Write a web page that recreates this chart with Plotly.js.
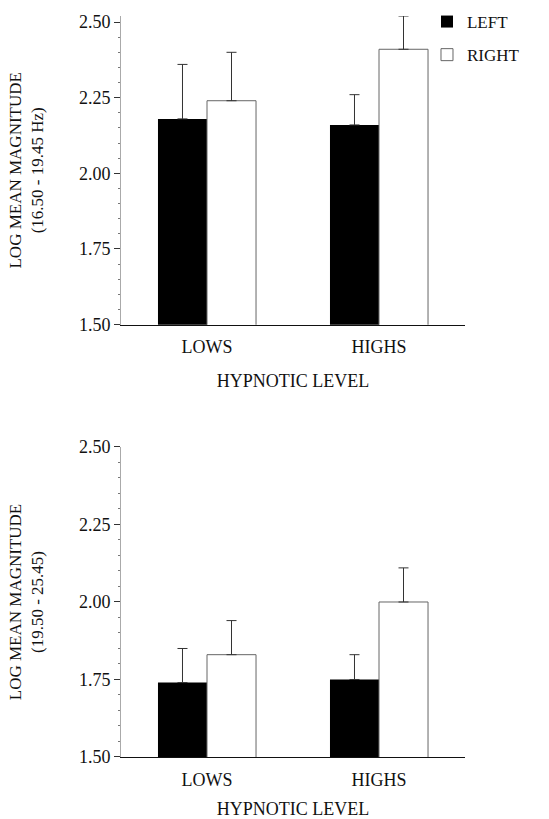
<!DOCTYPE html>
<html>
<head>
<meta charset="utf-8">
<script src="https://cdn.plot.ly/plotly-3.0.1.min.js"></script>
<style>
html,body{margin:0;padding:0;background:#fff;}
#chart{width:549px;height:819px;}
</style>
</head>
<body>
<div id="chart"></div>
<script>
// Categories
const categories = ['LOWS', 'HIGHS'];

// Top panel: 16.50 - 19.45 Hz
const topLeft = [2.18, 2.16];
const topLeftErr = [0.18, 0.10];
const topRight = [2.24, 2.41];
const topRightErr = [0.16, 0.11];

// Bottom panel: 19.50 - 25.45
const botLeft = [1.74, 1.75];
const botLeftErr = [0.11, 0.08];
const botRight = [1.83, 2.00];
const botRightErr = [0.11, 0.11];

const seriesNames = ['LEFT', 'RIGHT'];
const yTicks = [1.50, 1.75, 2.00, 2.25, 2.50];

const FONT = '"Liberation Serif", "Times New Roman", Times, serif';

function errSpec(plus) {
  return {type: 'data', symmetric: false, array: plus, arrayminus: plus.map(() => 0),
          color: '#333', thickness: 1, width: 5};
}
const leftMarker = {color: '#000', line: {color: '#000', width: 0}};
const rightMarker = {color: '#fff', line: {color: '#666', width: 1}};

const traces = [
  {type: 'bar', name: seriesNames[0], x: categories, y: topLeft, xaxis: 'x', yaxis: 'y',
   marker: leftMarker, error_y: errSpec(topLeftErr), legendgroup: 'L'},
  {type: 'bar', name: seriesNames[1], x: categories, y: topRight, xaxis: 'x', yaxis: 'y',
   marker: rightMarker, error_y: errSpec(topRightErr), legendgroup: 'R'},
  {type: 'bar', name: seriesNames[0], x: categories, y: botLeft, xaxis: 'x2', yaxis: 'y2',
   marker: leftMarker, error_y: errSpec(botLeftErr), legendgroup: 'L', showlegend: false},
  {type: 'bar', name: seriesNames[1], x: categories, y: botRight, xaxis: 'x2', yaxis: 'y2',
   marker: rightMarker, error_y: errSpec(botRightErr), legendgroup: 'R', showlegend: false}
];

function yAxis(domain, range, title, anchor) {
  return {
    domain: domain, range: range, anchor: anchor,
    tickmode: 'array', tickvals: yTicks, ticktext: yTicks.map(v => v.toFixed(2)),
    ticks: 'outside', ticklen: 6, tickcolor: '#333', tickwidth: 1,
    minor: {tickmode: 'linear', tick0: 1.5, dtick: 0.05, ticks: 'outside', ticklen: 2, tickcolor: '#777', tickwidth: 1},
    showline: true, linecolor: '#aaa', linewidth: 1,
    showgrid: false, zeroline: false,
    tickfont: {family: FONT, size: 18, color: '#111'},
    title: {text: title, font: {family: FONT, size: 17, color: '#111'}, standoff: 30}
  };
}
function xAxis(anchor) {
  return {
    anchor: anchor, range: [-0.5, 1.5], type: 'category',
    showline: true, linecolor: '#111', linewidth: 1,
    ticks: '', ticklabelstandoff: 6,
    showgrid: false, zeroline: false,
    tickfont: {family: FONT, size: 18, color: '#111'},
    title: {text: 'HYPNOTIC LEVEL', font: {family: FONT, size: 18, color: '#111'}, standoff: 18}
  };
}

const layout = {
  width: 549, height: 819,
  margin: {l: 121, r: 84, t: 16, b: 62, autoexpand: false},
  paper_bgcolor: '#fff', plot_bgcolor: '#fff',
  font: {family: FONT, color: '#111'},
  barmode: 'group', bargap: 0.43, bargroupgap: 0,
  showlegend: true,
  legend: {x: 0.8895, xanchor: 'left', y: 1.0162, yanchor: 'top',
           font: {family: FONT, size: 17, color: '#111'},
           traceorder: 'grouped', tracegroupgap: 8, bgcolor: 'rgba(0,0,0,0)'},
  xaxis: xAxis('y'),
  yaxis: yAxis([0.5835, 1], [1.5, 2.52], 'LOG MEAN MAGNITUDE<br>(16.50 - 19.45 Hz)', 'x'),
  xaxis2: xAxis('y2'),
  yaxis2: yAxis([0, 0.4184], [1.5, 2.5], 'LOG MEAN MAGNITUDE<br>(19.50 - 25.45)', 'x2')
};

Plotly.newPlot('chart', traces, layout, {displayModeBar: false, staticPlot: true});
</script>
</body>
</html>
